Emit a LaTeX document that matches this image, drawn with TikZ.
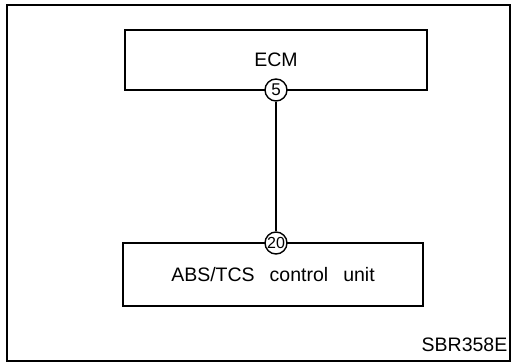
\documentclass[tikz,border=0pt]{standalone}
\usepackage{fontspec}
\setmainfont{Liberation Sans}
\begin{document}
\begin{tikzpicture}[x=1pt,y=1pt,line width=1.4pt,every node/.style={font=\fontsize{19.5}{22}\selectfont}]
\useasboundingbox (0,0) rectangle (514,364);
\draw (7,3) rectangle (510,359);

\node[draw,minimum width=302pt,minimum height=60pt,inner sep=0pt] (ecm) at (276,304) {ECM};
\node[draw,minimum width=300pt,minimum height=63pt,inner sep=0pt] (abs) at (273,89.5) {ABS/TCS\hspace{15pt}control\hspace{15pt}unit};

\node[draw,circle,fill=white,minimum size=22pt,inner sep=0pt,font=\fontsize{17}{18}\selectfont] (pin5) at (276,274) {5};
\node[draw,circle,fill=white,minimum size=22pt,inner sep=0pt,font=\fontsize{16}{17}\selectfont] (pin20) at (276,121) {20};
\draw (pin5.south) -- (pin20.north);

\node[anchor=south east,inner sep=0pt] (code) at (508,12) {SBR358E};
\end{tikzpicture}
\end{document}
